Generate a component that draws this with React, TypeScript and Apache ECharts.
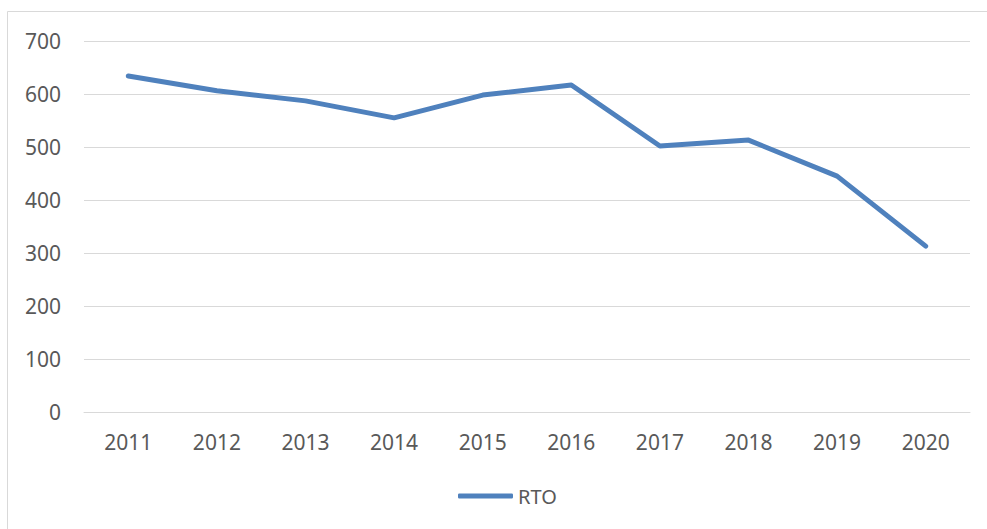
import React, { useEffect, useRef } from "react";
import * as echarts from "echarts";

const years = ["2011", "2012", "2013", "2014", "2015", "2016", "2017", "2018", "2019", "2020"];
const rtoValues = [634, 606, 587, 555, 598, 617, 502, 513, 445, 313];
const seriesName = "RTO";

export default function App() {
  const ref = useRef<HTMLDivElement>(null);
  useEffect(() => {
    if (!ref.current) return;
    const chart = echarts.init(ref.current, null, { renderer: "svg" });
    const font = "Noto Sans";
    chart.setOption({
      animation: false,
      backgroundColor: "#ffffff",
      graphic: [
        {
          type: "rect",
          shape: { x: 7.5, y: 11.5, width: 1000, height: 600 },
          style: { fill: "none", stroke: "#d9d9d9", lineWidth: 1 },
          silent: true,
          z: 0,
        },
      ],
      grid: { left: 84, right: 17, top: 41, bottom: 117, containLabel: false },
      legend: {
        left: 458,
        top: 486,
        padding: 0,
        icon: "roundRect",
        itemWidth: 55,
        itemHeight: 5,
        textStyle: { color: "#595959", fontSize: 20, fontFamily: font },
        data: [seriesName],
      },
      xAxis: {
        type: "category",
        data: years,
        boundaryGap: true,
        axisLine: { show: true, lineStyle: { color: "#d9d9d9", width: 1 } },
        axisTick: { show: false },
        axisLabel: { color: "#595959", fontSize: 21, fontFamily: font, margin: 19 },
      },
      yAxis: {
        type: "value",
        min: 0,
        max: 700,
        interval: 100,
        axisLine: { show: false },
        axisTick: { show: false },
        splitLine: { lineStyle: { color: "#d9d9d9", width: 1 } },
        axisLabel: { color: "#595959", fontSize: 21, fontFamily: font, margin: 23 },
      },
      series: [
        {
          name: seriesName,
          type: "line",
          data: rtoValues,
          showSymbol: false,
          symbol: "none",
          lineStyle: { color: "#4f81bd", width: 5, cap: "round", join: "round" },
          itemStyle: { color: "#4f81bd" },
        },
      ],
    });
    return () => chart.dispose();
  }, []);
  return (
    <div
      ref={ref}
      style={{ position: "fixed", left: 0, top: 0, width: 987, height: 529 }}
    />
  );
}
